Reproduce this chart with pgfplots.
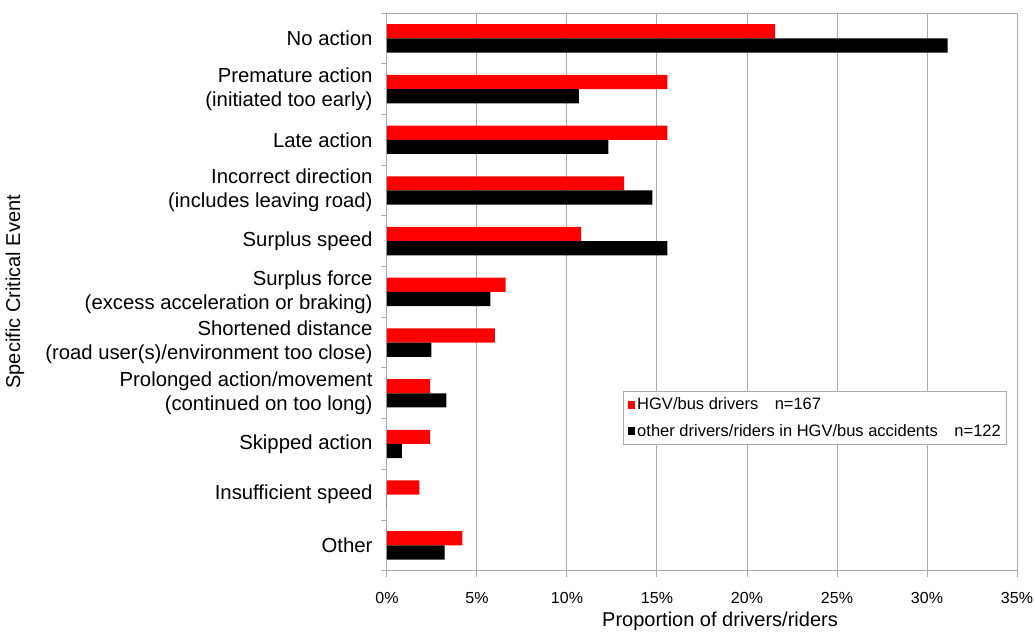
\documentclass[border=0pt]{standalone}
\usepackage{fontspec}
\setmainfont{Liberation Sans}
\usepackage{pgfplots}
\pgfplotsset{compat=1.18}
\definecolor{gridgray}{RGB}{170,170,170}
\begin{document}
\begin{tikzpicture}
\begin{axis}[name=ax,
  scale only axis, width=630pt, height=557.7pt,
  xbar, bar width=0.28,
  xmin=0, xmax=35, ymin=-0.5, ymax=10.5, y dir=reverse,
  xtick={0,5,...,35},
  xticklabel={\pgfmathprintnumber{\tick}\%},
  /pgf/number format/assume math mode=true,
  xticklabel style={font=\fontsize{16}{19}\selectfont, yshift=-12pt},
  xmajorgrids, major grid style={gridgray, line width=1pt},
  axis line style={gridgray, line width=1pt},
  tick style={gridgray, line width=1pt},
  tick align=outside, major tick length=6pt,
  xtick pos=left, ytick pos=left,
  ytick={-0.5,0.5,...,10.5}, yticklabels={},
  extra y ticks={0,1,2,3,4,5,6,7,8,9,10},
  extra y tick labels={{No action},{Premature action\\(initiated too early)},{Late action},{Incorrect direction\\(includes leaving road)},{Surplus speed},{Surplus force\\(excess acceleration or braking)},{Shortened distance\\(road user(s)/environment too close)},{Prolonged action/movement\\(continued on too long)},{Skipped action},{Insufficient speed},{Other}},
  extra y tick style={major tick length=0pt, yticklabel style={align=right, font=\fontsize{20.3}{24}\selectfont, xshift=-11pt}},
  xlabel={Proportion of drivers/riders},
  ylabel={Specific Critical Event},
  every axis x label/.style={at={(axis description cs:0.5286,-0.0915)}, anchor=center, font=\fontsize{20}{24}\selectfont},
  every axis y label/.style={at={(axis description cs:-0.5905,0.5)}, rotate=90, anchor=center, font=\fontsize{20}{24}\selectfont},
  legend style={at={(0.375,0.323)}, anchor=north west, draw=gridgray, line width=0.8pt,
    font=\fontsize{16.5}{19}\selectfont, row sep=9pt, inner xsep=4pt, inner ysep=5pt,
    /tikz/every even column/.append style={column sep=3pt}},
  legend cell align=left,
  legend image code/.code={\fill[#1] (0pt,-3.8pt) rectangle (7.6pt,3.8pt);},
]
\addplot[fill=red, draw=none, bar shift=-0.14] coordinates {
(21.56,0) (15.57,1) (15.57,2) (13.17,3) (10.78,4) (6.59,5) (5.99,6) (2.40,7) (2.40,8) (1.80,9) (4.19,10)};
\addlegendentry{HGV/bus drivers\quad n=167}
\addplot[fill=black, draw=none, bar shift=0.14] coordinates {
(31.15,0) (10.66,1) (12.30,2) (14.75,3) (15.57,4) (5.74,5) (2.46,6) (3.30,7) (0.82,8) (0,9) (3.20,10)};
\addlegendentry{other drivers/riders in HGV/bus accidents\quad n=122}
\end{axis}
\pgfresetboundingbox
\path[use as bounding box] ([xshift=-387pt,yshift=13pt]ax.north west) rectangle ([xshift=18pt,yshift=-62pt]ax.south east);
\end{tikzpicture}
\end{document}
